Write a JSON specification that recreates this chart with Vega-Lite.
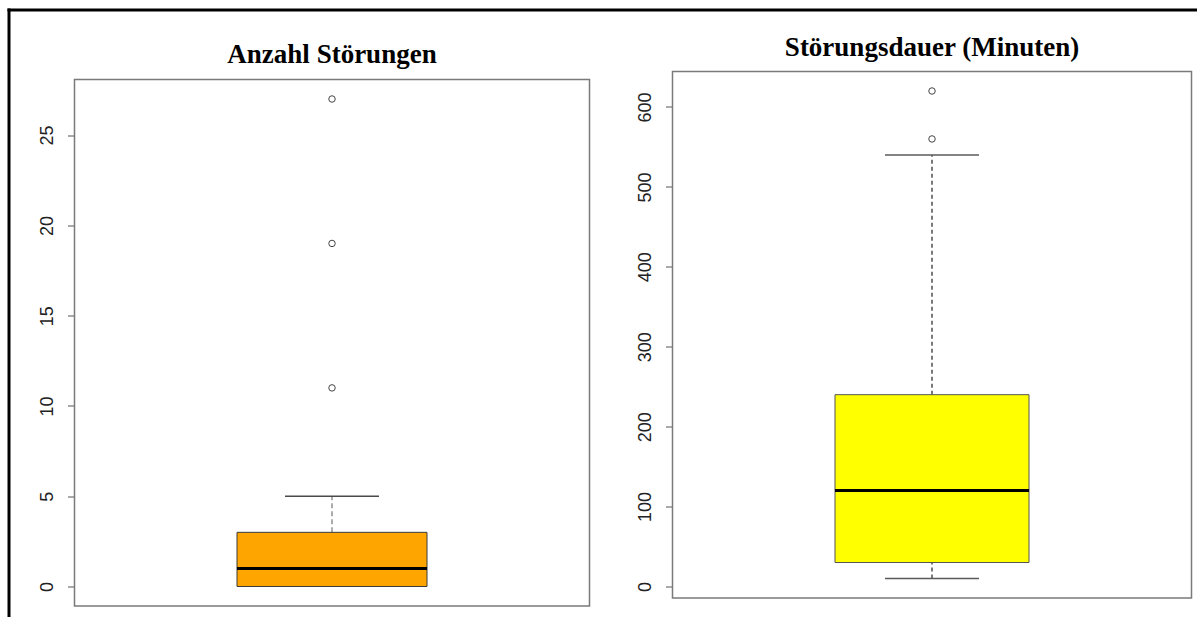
{
  "$schema": "https://vega.github.io/schema/vega-lite/v6.json",
  "background": "white",
  "padding": {"left": 6.5, "top": 7.5, "right": 0, "bottom": 0},
  "bounds": "flush",
  "spacing": 83,
  "config": {
    "view": {"stroke": null},
    "axisY": {
      "domain": false,
      "grid": false,
      "tickSize": 7,
      "tickColor": "#555555",
      "tickWidth": 1,
      "labelAngle": 270,
      "labelAlign": "center",
      "labelBaseline": "alphabetic",
      "labelPadding": 15,
      "labelFont": "Liberation Sans",
      "labelFontSize": 18,
      "labelColor": "#222222",
      "labelFlush": false,
      "labelOverlap": false,
      "title": null
    }
  },
  "datasets": {
    "anzahl_stats": [{"lower": 0, "q1": 0, "median": 1, "q3": 3, "upper": 5}],
    "anzahl_out": [{"value": 11}, {"value": 19}, {"value": 27}],
    "dauer_stats": [{"lower": 10, "q1": 30, "median": 120, "q3": 240, "upper": 540}],
    "dauer_out": [{"value": 560}, {"value": 620}]
  },
  "hconcat": [
    {
      "width": 515,
      "height": 535,
      "layer": [
        {
          "data": {"name": "anzahl_stats"},
          "mark": {"type": "rect", "fill": null, "stroke": "#7a7a7a", "strokeWidth": 1.5},
          "encoding": {
            "x": {"datum": 0.5, "type": "quantitative", "scale": {"domain": [0.5, 1.5], "nice": false, "zero": false, "padding": 0}, "axis": null},
            "x2": {"datum": 1.5},
            "y": {"datum": -1.08, "type": "quantitative", "scale": {"domain": [-1.108, 28.523], "nice": false, "zero": false, "padding": 0}, "axis": {"values": [0, 5, 10, 15, 20, 25]}},
            "y2": {"datum": 28.08}
          }
        },
        {
          "data": {"name": "anzahl_stats"},
          "mark": {"type": "rule", "color": "#777777", "strokeWidth": 1.2, "strokeDash": [5, 3]},
          "encoding": {
            "x": {"datum": 1, "type": "quantitative"},
            "y": {"field": "q3", "type": "quantitative"},
            "y2": {"field": "upper"}
          }
        },
        {
          "data": {"name": "anzahl_stats"},
          "mark": {"type": "bar", "width": 190, "fill": "#FFA500", "stroke": "#3a3a3a", "strokeWidth": 1},
          "encoding": {
            "x": {"datum": 1, "type": "quantitative"},
            "y": {"field": "q1", "type": "quantitative"},
            "y2": {"field": "q3"}
          }
        },
        {
          "data": {"name": "anzahl_stats"},
          "mark": {"type": "tick", "orient": "horizontal", "size": 190, "thickness": 3, "color": "black", "opacity": 1},
          "encoding": {
            "x": {"datum": 1, "type": "quantitative"},
            "y": {"field": "median", "type": "quantitative"}
          }
        },
        {
          "data": {"name": "anzahl_stats"},
          "mark": {"type": "tick", "orient": "horizontal", "size": 94, "thickness": 1.6, "color": "#4a4a4a", "opacity": 1},
          "encoding": {
            "x": {"datum": 1, "type": "quantitative"},
            "y": {"field": "upper", "type": "quantitative"}
          }
        },
        {
          "data": {"name": "anzahl_out"},
          "mark": {"type": "point", "shape": "circle", "filled": false, "size": 42, "stroke": "#444444", "strokeWidth": 1, "opacity": 1},
          "encoding": {
            "x": {"datum": 1, "type": "quantitative"},
            "y": {"field": "value", "type": "quantitative"}
          }
        },
        {
          "data": {"name": "anzahl_stats"},
          "mark": {"type": "text", "font": "Liberation Serif", "fontWeight": "bold", "fontSize": 27, "color": "black", "align": "center", "baseline": "alphabetic"},
          "encoding": {
            "x": {"datum": 1, "type": "quantitative"},
            "y": {"datum": 29.021, "type": "quantitative"},
            "text": {"value": "Anzahl Störungen"}
          }
        },
        {
          "data": {"name": "anzahl_stats"},
          "mark": {"type": "rule", "color": "black", "strokeWidth": 3, "strokeCap": "square"},
          "encoding": {
            "x": {"datum": 0.37282, "type": "quantitative"},
            "x2": {"datum": 2.6767},
            "y": {"datum": 31.929, "type": "quantitative"}
          }
        },
        {
          "data": {"name": "anzahl_stats"},
          "mark": {"type": "rule", "color": "black", "strokeWidth": 3, "strokeCap": "square"},
          "encoding": {
            "x": {"datum": 0.37282, "type": "quantitative"},
            "y": {"datum": 31.929, "type": "quantitative"},
            "y2": {"datum": -1.606}
          }
        }
      ]
    },
    {
      "width": 519,
      "height": 535,
      "layer": [
        {
          "data": {"name": "dauer_stats"},
          "mark": {"type": "rect", "fill": null, "stroke": "#7a7a7a", "strokeWidth": 1.5},
          "encoding": {
            "x": {"datum": 0.5, "type": "quantitative", "scale": {"domain": [0.5, 1.5], "nice": false, "zero": false, "padding": 0}, "axis": null},
            "x2": {"datum": 1.5},
            "y": {"datum": -14.4, "type": "quantitative", "scale": {"domain": [-25.04, 644.4], "nice": false, "zero": false, "padding": 0}, "axis": {"values": [0, 100, 200, 300, 400, 500, 600]}},
            "y2": {"datum": 644.4}
          }
        },
        {
          "data": {"name": "dauer_stats"},
          "mark": {"type": "rule", "color": "#222222", "strokeWidth": 1.2, "strokeDash": [4, 3]},
          "encoding": {
            "x": {"datum": 1, "type": "quantitative"},
            "y": {"field": "q3", "type": "quantitative"},
            "y2": {"field": "upper"}
          }
        },
        {
          "data": {"name": "dauer_stats"},
          "mark": {"type": "rule", "color": "#222222", "strokeWidth": 1.2, "strokeDash": [4, 3]},
          "encoding": {
            "x": {"datum": 1, "type": "quantitative"},
            "y": {"field": "lower", "type": "quantitative"},
            "y2": {"field": "q1"}
          }
        },
        {
          "data": {"name": "dauer_stats"},
          "mark": {"type": "bar", "width": 194, "fill": "#FFFF00", "stroke": "#555555", "strokeWidth": 1},
          "encoding": {
            "x": {"datum": 1, "type": "quantitative"},
            "y": {"field": "q1", "type": "quantitative"},
            "y2": {"field": "q3"}
          }
        },
        {
          "data": {"name": "dauer_stats"},
          "mark": {"type": "tick", "orient": "horizontal", "size": 194, "thickness": 3, "color": "black", "opacity": 1},
          "encoding": {
            "x": {"datum": 1, "type": "quantitative"},
            "y": {"field": "median", "type": "quantitative"}
          }
        },
        {
          "data": {"name": "dauer_stats"},
          "mark": {"type": "tick", "orient": "horizontal", "size": 94, "thickness": 1.6, "color": "#5a5a5a", "opacity": 1},
          "encoding": {
            "x": {"datum": 1, "type": "quantitative"},
            "y": {"field": "upper", "type": "quantitative"}
          }
        },
        {
          "data": {"name": "dauer_stats"},
          "mark": {"type": "tick", "orient": "horizontal", "size": 94, "thickness": 1.6, "color": "#5a5a5a", "opacity": 1},
          "encoding": {
            "x": {"datum": 1, "type": "quantitative"},
            "y": {"field": "lower", "type": "quantitative"}
          }
        },
        {
          "data": {"name": "dauer_out"},
          "mark": {"type": "point", "shape": "circle", "filled": false, "size": 42, "stroke": "#444444", "strokeWidth": 1, "opacity": 1},
          "encoding": {
            "x": {"datum": 1, "type": "quantitative"},
            "y": {"field": "value", "type": "quantitative"}
          }
        },
        {
          "data": {"name": "dauer_stats"},
          "mark": {"type": "text", "font": "Liberation Serif", "fontWeight": "bold", "fontSize": 27, "color": "black", "align": "center", "baseline": "alphabetic"},
          "encoding": {
            "x": {"datum": 1, "type": "quantitative"},
            "y": {"datum": 664.42, "type": "quantitative"},
            "text": {"value": "Störungsdauer (Minuten)"}
          }
        }
      ]
    }
  ]
}
